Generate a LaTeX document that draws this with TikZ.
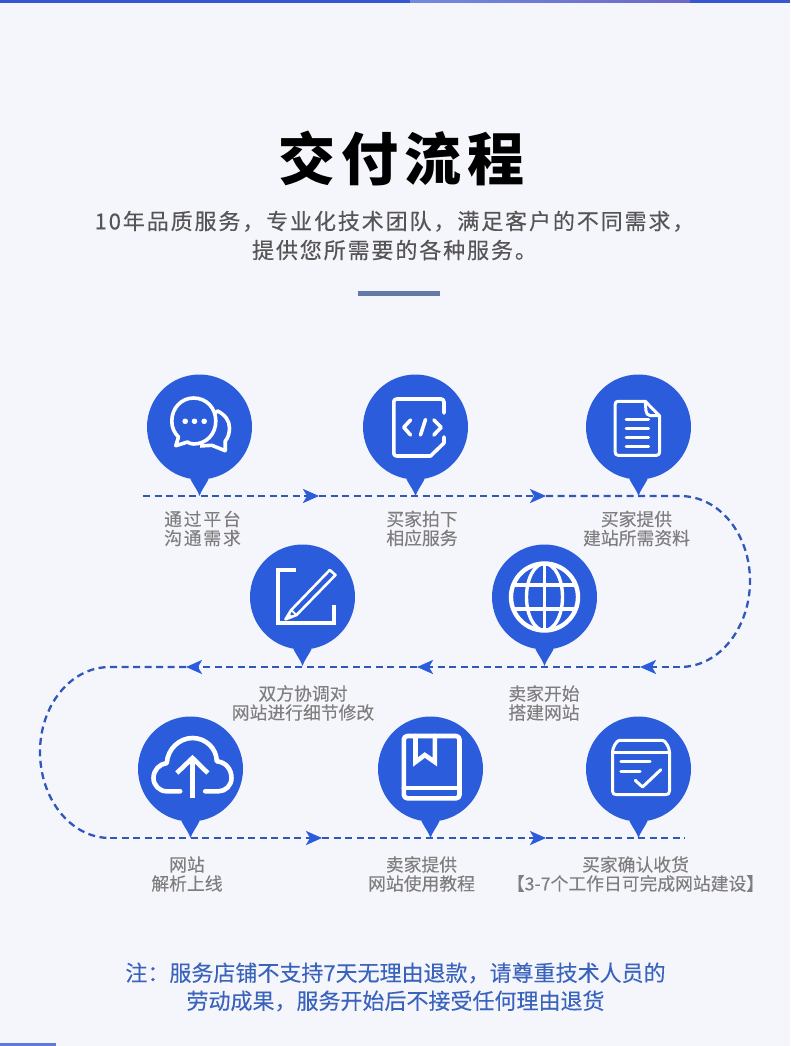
\documentclass[tikz,border=0pt]{standalone}
\usepackage{fontspec}
\usetikzlibrary{arrows.meta,calc}
\setmainfont{Noto Sans CJK SC}
\newfontfamily\plainfont[FakeBold=0.15]{Noto Sans CJK SC}
\newfontfamily\titlefont[LetterSpace=10]{Noto Sans CJK SC}
\newfontfamily\subfont[LetterSpace=8.6,FakeBold=0.3]{Noto Sans CJK SC}
\newfontfamily\wideFont[LetterSpace=10,FakeBold=0.15]{Noto Sans CJK SC}
\definecolor{pagebg}{HTML}{F5F5FC}
\definecolor{pinblue}{HTML}{2B5CDC}
\definecolor{dashblue}{HTML}{3058B8}
\definecolor{barblue}{HTML}{3558D0}
\definecolor{rulecol}{HTML}{6479A6}
\definecolor{subgray}{HTML}{555555}
\definecolor{capgray}{HTML}{7E7E7E}
\definecolor{noteblue}{HTML}{3A64BC}
\tikzset{
  pinhead/.style={circle,fill=pinblue,draw=none,minimum size=105pt,inner sep=0pt},
  flowline/.style={draw=dashblue,line width=2.3pt,dash pattern=on 7pt off 4.5pt},
  tipped/.style={-{Stealth[length=16pt,width=14pt,inset=4pt,color=pinblue]}},
  captext/.style={text=capgray,align=center,inner sep=0pt,
    font=\plainfont\fontsize{17.8}{19}\selectfont},
  widecap/.style={text=capgray,align=center,inner sep=0pt,
    font=\wideFont\fontsize{17.8}{19}\selectfont},
  subtext/.style={text=subgray,align=center,inner sep=0pt,
    font=\subfont\fontsize{22}{29}\selectfont},
  notetext/.style={text=noteblue,align=center,inner sep=0pt,
    font=\plainfont\fontsize{22}{28}\selectfont},
  ico/.style={draw=white,line width=3.6pt,line join=round,line cap=round},
  icothin/.style={draw=white,line width=3pt,line join=round,line cap=round},
}
\newcommand{\pintip}[1]{\fill[pinblue] (#1.-100) .. controls ($(#1.center)+(-5,60)$) and ($(#1.center)+(-2,63)$) .. ($(#1.center)+(0,69)$) .. controls ($(#1.center)+(2,63)$) and ($(#1.center)+(5,60)$) .. (#1.-80) -- cycle;}
\begin{document}
\begin{tikzpicture}[x=1pt,y=-1pt]
\useasboundingbox (0,0) rectangle (790,1046);
\fill[pagebg] (0,0) rectangle (790,1046);
% top and bottom bars
\fill[barblue] (0,0) rectangle (410,3);
\shade[left color=barblue!70!white,right color=barblue!75!violet!80!white] (410,0) rectangle (690,3);
\fill[barblue] (690,0) rectangle (790,3);
\fill[barblue!80!white] (0,1043) rectangle (56,1046);
% heading
\node[inner sep=0pt,font=\titlefont\bfseries\fontsize{57}{60}\selectfont] (title) at (401.5,158) {交付流程};
\node[subtext] (sub) at (394.5,235.5) {10年品质服务，专业化技术团队，满足客户的不同需求，\\提供您所需要的各种服务。};
\fill[rulecol] (358,291) rectangle (440,296);
% route coordinates
\coordinate (s) at (143,496);
\coordinate (a1) at (319,496);
\coordinate (a2) at (546,496);
\coordinate (r1) at (680,496);
\coordinate (r2) at (750,581);
\coordinate (r3) at (680,667);
\coordinate (a3) at (640,667);
\coordinate (a4) at (417,667);
\coordinate (a5) at (186,667);
\coordinate (l1) at (110,667);
\coordinate (l2) at (40,752);
\coordinate (l3) at (110,838);
\coordinate (a6) at (322,838);
\coordinate (a7) at (546,838);
\coordinate (e) at (685,838);
\draw[flowline,tipped] (s) -- (a1);
\draw[flowline,tipped] (a1) -- (a2);
\draw[flowline] (a2) -- (r1) .. controls (720,496) and (750,535) .. (r2) .. controls (750,627) and (720,667) .. (r3);
\draw[flowline,tipped] (r3) -- (a3);
\draw[flowline,tipped] (a3) -- (a4);
\draw[flowline,tipped] (a4) -- (a5);
\draw[flowline] (a5) -- (l1) .. controls (70,667) and (40,706) .. (l2) .. controls (40,798) and (70,838) .. (l3);
\draw[flowline,tipped] (l3) -- (a6);
\draw[flowline,tipped] (a6) -- (a7);
\draw[flowline] (a7) -- (e);
% pins
\node[pinhead] (p1) at (199.5,427) {}; \pintip{p1}
\node[pinhead] (p2) at (415.5,427) {}; \pintip{p2}
\node[pinhead] (p3) at (638.5,427) {}; \pintip{p3}
\node[pinhead] (p4) at (302.5,597) {}; \pintip{p4}
\node[pinhead] (p5) at (544.5,597) {}; \pintip{p5}
\node[pinhead] (p6) at (190.5,769) {}; \pintip{p6}
\node[pinhead] (p7) at (430.5,769) {}; \pintip{p7}
\node[pinhead] (p8) at (638.5,769) {}; \pintip{p8}
% icon 1: chat
\begin{scope}[shift={(p1.center)}]
\draw[ico,fill=pinblue] (25.7,23.7) -- (12.3,18.3) -- (0,19) -- (0,0) -- (18,-16) .. controls (26,-12) and (30,-6) .. (30,1) .. controls (30,6) and (28.5,11) .. (25.7,14.3) -- cycle;
\fill[pinblue] (0,21) rectangle (-4,10);
\draw[ico,fill=pinblue] (-23.7,18.7) -- (-21,10) .. controls (-25,6) and (-27.7,1) .. (-27.7,-6) .. controls (-27.7,-19) and (-18,-29) .. (-6,-29) .. controls (7,-29) and (16.3,-19) .. (16.3,-6) .. controls (16.3,7) and (7,17) .. (-6,17) .. controls (-9,17) and (-10,16) .. (-12,15) -- cycle;
\fill[white] (-14.3,-5.7) circle [radius=2.8] (-5,-5.7) circle [radius=2.8] (4.7,-5.7) circle [radius=2.8];
\end{scope}
% icon 2: code
\begin{scope}[shift={(p2.center)}]
\draw[ico] (28.5,-14) -- (28.5,-25) .. controls (28.5,-27) and (27,-28) .. (25.5,-28) -- (-18.7,-28) .. controls (-20.7,-28) and (-21.7,-27) .. (-21.7,-25) -- (-21.7,26) .. controls (-21.7,28) and (-20.7,29) .. (-18.7,29) -- (15,29) -- (28.5,16) -- (28.5,10);
\draw[ico] (-5,-7) -- (-11.7,0.3) -- (-5,8);
\draw[ico] (10,-7.5) -- (5,8);
\draw[ico] (18.3,-7) -- (25.7,0.3) -- (18.3,8);
\end{scope}
% icon 3: document
\begin{scope}[shift={(p3.center)}]
\draw[icothin] (6.7,-25.7) -- (-20.3,-25.7) .. controls (-22.3,-25.7) and (-23.3,-24.7) .. (-23.3,-22.7) -- (-23.3,25.3) .. controls (-23.3,27.3) and (-22.3,28.3) .. (-20.3,28.3) -- (18,28.3) .. controls (20,28.3) and (21,27.3) .. (21,25.3) -- (21,-11.3) -- cycle;
\draw[icothin] (6.7,-25.7) -- (7.5,-16) .. controls (8,-13) and (9,-12) .. (12,-11.3) -- (21,-11.3);
\foreach \yy in {-8,1,10,19} \draw[icothin] (-12.3,\yy) -- (10,\yy);
\end{scope}
% icon 4: pen
\begin{scope}[shift={(p4.center)}]
\draw[ico,line cap=butt,line join=miter] (-7,-27) -- (-24.7,-27) -- (-24.7,25.7) -- (31.3,25.7) -- (31.3,8);
\draw[icothin,line width=2.6pt] (-17,22.3) -- (-11.3,13) -- (27.3,-27) -- (33,-22) -- (-6,18) -- cycle;
\draw[icothin,line width=1.8pt] (-11.3,13) -- (-6,18);
\fill[white] (-17,22.3) -- (-13.5,16) -- (-10.5,19) -- cycle;
\end{scope}
% icon 5: globe
\begin{scope}[shift={(p5.center)}]
\draw[ico,line width=4.4pt] (0,0) circle [radius=33.5];
\draw[ico,line width=3.4pt] (0,0) ellipse [x radius=18,y radius=33.5];
\draw[ico,line width=3.6pt,line cap=butt] (0,-33.5) -- (0,33.5);
\draw[ico,line width=3.6pt,line cap=butt] (-30,-12) -- (30,-12);
\draw[ico,line width=3.6pt,line cap=butt] (-30,12) -- (30,12);
\end{scope}
% icon 6: cloud
\begin{scope}[shift={(p6.center)}]
\draw[ico,line width=4.6pt] (-10.3,22.3) -- (-23.7,22.3) .. controls (-31,22.3) and (-37,16.5) .. (-37,9) .. controls (-37,1) and (-31,-5) .. (-23.7,-6) .. controls (-23,-20) and (-11,-31) .. (2,-31) .. controls (15,-31) and (26,-21) .. (26.3,-7.7) .. controls (35,-7) and (41,0) .. (41,9) .. controls (41,16.5) and (35,22.3) .. (28,22.3) -- (14.7,22.3);
\draw[ico,line width=4.6pt,line cap=butt] (2,29) -- (2,-11);
\draw[ico,line width=4.6pt,line cap=butt,line join=miter] (-13.7,4) -- (2,-11) -- (17.3,4);
\end{scope}
% icon 7: book
\begin{scope}[shift={(p7.center)}]
\draw[ico,line width=4.6pt] (-23,-33) -- (25.5,-33) .. controls (27.5,-33) and (29,-31.5) .. (29,-29.5) -- (29,25.8) .. controls (29,27.8) and (27.5,29.3) .. (25.5,29.3) -- (-23,29.3) .. controls (-25,29.3) and (-26.7,27.8) .. (-26.7,25.8) -- (-26.7,-29.5) .. controls (-26.7,-31.5) and (-25,-33) .. (-23,-33) -- cycle;
\draw[ico,line width=4.6pt] (-26.7,19) -- (29,19);
\draw[ico,line width=4.6pt,line join=miter] (-15,-33) -- (-15,-7) -- (-5.7,-14) -- (4.3,-7) -- (4.3,-33);
\end{scope}
% icon 8: parcel
\begin{scope}[shift={(p8.center)}]
\draw[icothin] (-19,-28.7) -- (24,-28.7) .. controls (27,-28.7) and (31,-21) .. (31,-17) -- (31,22) .. controls (31,24.5) and (29.5,25.7) .. (27,25.7) -- (-22,25.7) .. controls (-24.5,25.7) and (-26,24.5) .. (-26,22) -- (-26,-17) .. controls (-26,-21) and (-22,-28.7) .. (-19,-28.7) -- cycle;
\draw[icothin] (-26,-17) -- (31,-17);
\draw[icothin] (-17.7,-7.7) -- (11.7,-7.7);
\draw[icothin] (-17.7,2.3) -- (1.7,2.3);
\draw[icothin] (-3.3,11.3) -- (4,18) -- (22.3,0.7);
\end{scope}
% captions
\node[widecap] (c1) at (202.5,528.5) {通过平台\\沟通需求};
\node[captext] (c2) at (422,528.5) {买家拍下\\相应服务};
\node[captext] (c3) at (636.5,528.5) {买家提供\\建站所需资料};
\node[captext] (c4) at (303,703) {双方协调对\\网站进行细节修改};
\node[captext] (c5) at (544,703) {卖家开始\\搭建网站};
\node[captext] (c6) at (187,874) {网站\\解析上线};
\node[captext] (c7) at (421.5,874) {卖家提供\\网站使用教程};
\node[captext] (c8) at (635.5,874) {买家确认收货\\【3-7个工作日可完成网站建设】};
% note
\node[notetext] (note) at (395.5,987) {注：服务店铺不支持7天无理由退款，请尊重技术人员的\\劳动成果，服务开始后不接受任何理由退货};
\end{tikzpicture}
\end{document}
